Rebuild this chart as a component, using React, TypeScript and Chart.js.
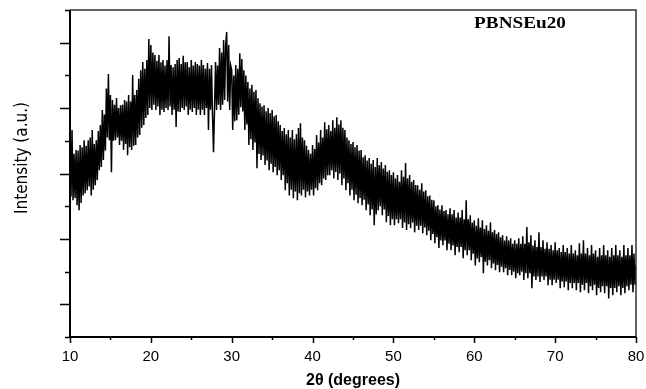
import React, { useEffect, useRef } from "react";
import { Chart, registerables } from "chart.js";

Chart.register(...registerables);

// 2θ sampling of the pattern (degrees)
const X_START = 10;
const X_STEP = 0.125;

// Intensity (a.u.), grouped by 10° ranges (8 readings per degree)
const I_10_20 = [
  6.00, 4.30, 6.33, 4.18, 5.60, 4.25, 5.72, 4.03,
  5.70, 3.88, 5.87, 4.10, 5.80, 4.33, 6.02, 4.40,
  5.85, 4.49, 6.02, 4.60, 6.10, 4.33, 6.33, 4.50,
  5.90, 4.64, 6.02, 4.80, 6.30, 5.10, 6.48, 5.20,
  6.94, 5.41, 6.80, 5.70, 7.60, 6.10, 8.04, 6.02,
  7.40, 5.04, 7.25, 6.00, 7.10, 6.02, 7.31, 6.10,
  7.00, 5.87, 7.09, 6.00, 7.10, 5.72, 7.25, 5.90,
  7.20, 5.56, 7.40, 5.80, 7.20, 5.72, 8.01, 5.85,
  7.40, 5.87, 7.55, 6.10, 7.90, 6.18, 8.16, 6.40,
  8.41, 6.48, 8.20, 6.70, 8.47, 6.79, 9.11, 7.00,
];
const I_20_30 = [
  8.93, 6.94, 8.70, 7.10, 8.62, 6.94, 8.45, 7.05,
  8.62, 6.79, 8.40, 6.95, 8.47, 6.88, 8.30, 7.00,
  8.47, 6.94, 9.20, 7.05, 8.32, 6.79, 8.25, 6.95,
  8.35, 6.42, 8.47, 6.90, 8.53, 6.88, 8.35, 7.00,
  8.60, 6.94, 8.40, 7.05, 8.41, 6.79, 8.25, 6.95,
  8.47, 6.88, 8.30, 7.00, 8.41, 6.79, 8.35, 6.95,
  8.30, 6.79, 8.47, 6.95, 8.32, 6.79, 8.20, 7.00,
  8.38, 6.33, 8.20, 6.95, 8.32, 6.79, 5.65, 7.00,
  8.41, 6.94, 8.30, 7.10, 8.84, 6.94, 8.70, 7.10,
  9.08, 7.25, 8.90, 9.33, 7.20, 8.93, 6.94, 8.30,
];
const I_30_40 = [
  8.16, 6.33, 8.00, 6.60, 8.32, 6.63, 8.20, 6.80,
  8.68, 7.03, 8.50, 6.90, 8.16, 6.33, 8.00, 6.50,
  7.80, 5.87, 7.60, 6.05, 7.71, 5.72, 7.50, 5.95,
  7.55, 5.16, 7.30, 5.60, 7.15, 5.41, 7.05, 5.55,
  7.09, 5.26, 6.90, 5.40, 7.00, 5.10, 6.85, 5.30,
  6.94, 5.04, 6.75, 5.20, 6.79, 4.95, 6.60, 5.10,
  6.48, 4.80, 6.30, 4.95, 6.39, 4.49, 6.20, 4.70,
  6.33, 4.33, 6.10, 4.50, 6.33, 4.24, 6.05, 4.45,
  6.20, 4.18, 6.39, 4.40, 6.54, 4.33, 6.10, 4.50,
  6.02, 4.27, 5.85, 4.45, 5.72, 4.33, 5.60, 4.50,
];
const I_40_50 = [
  5.87, 4.33, 5.75, 4.55, 6.18, 4.49, 5.95, 4.70,
  6.33, 4.64, 6.10, 4.85, 6.57, 4.80, 6.35, 4.95,
  6.48, 4.95, 6.30, 5.10, 6.63, 4.85, 6.40, 5.05,
  6.72, 4.80, 6.50, 5.00, 6.63, 4.64, 6.40, 4.85,
  6.33, 4.49, 6.10, 4.70, 6.02, 4.33, 5.90, 4.50,
  5.96, 4.18, 5.80, 4.35, 5.87, 4.09, 5.70, 4.25,
  5.72, 4.03, 5.50, 4.20, 5.56, 3.88, 5.40, 4.05,
  5.47, 3.72, 5.30, 3.90, 5.41, 3.42, 5.20, 3.75,
  5.47, 3.88, 5.25, 4.00, 5.35, 3.72, 5.15, 3.90,
  5.26, 3.51, 5.05, 3.70, 5.10, 3.42, 4.95, 3.60,
];
const I_50_60 = [
  5.04, 3.42, 4.85, 3.60, 4.95, 3.48, 4.75, 3.60,
  5.10, 3.33, 4.90, 3.50, 5.32, 3.27, 4.85, 3.45,
  4.95, 3.33, 4.75, 3.50, 4.80, 3.20, 4.65, 3.40,
  4.64, 3.27, 4.50, 3.40, 4.70, 3.17, 4.45, 3.35,
  4.49, 3.11, 4.30, 3.25, 4.33, 2.96, 4.20, 3.15,
  4.18, 2.87, 4.00, 3.05, 4.03, 2.72, 3.90, 2.95,
  4.03, 2.81, 3.85, 2.95, 3.88, 2.65, 3.75, 2.85,
  3.94, 2.65, 3.75, 2.80, 3.88, 2.50, 3.65, 2.75,
  3.81, 2.59, 3.65, 2.75, 3.88, 2.41, 3.60, 2.65,
  4.18, 2.50, 3.60, 2.65, 3.72, 2.35, 3.50, 2.55,
];
const I_60_70 = [
  3.57, 2.19, 3.40, 2.40, 3.63, 2.29, 3.35, 2.45,
  3.57, 1.95, 3.30, 2.30, 3.42, 2.19, 3.25, 2.35,
  3.51, 2.10, 3.20, 2.25, 3.27, 2.04, 3.15, 2.20,
  3.20, 1.98, 3.05, 2.15, 3.11, 1.98, 2.95, 2.10,
  3.08, 1.89, 2.95, 2.05, 3.02, 1.89, 2.85, 2.00,
  2.96, 1.80, 2.85, 1.95, 3.02, 1.89, 2.85, 2.00,
  3.08, 1.74, 2.85, 1.95, 3.36, 1.80, 2.90, 1.95,
  3.11, 1.49, 2.80, 1.85, 2.96, 1.74, 2.75, 1.85,
  3.20, 1.68, 2.75, 1.85, 2.96, 1.74, 2.70, 1.85,
  2.90, 1.58, 2.70, 1.75, 2.81, 1.58, 2.65, 1.75,
];
const I_70_80 = [
  2.90, 1.65, 2.65, 1.75, 2.72, 1.49, 2.60, 1.70,
  2.81, 1.52, 2.60, 1.70, 2.72, 1.43, 2.55, 1.65,
  2.81, 1.49, 2.55, 1.65, 2.65, 1.43, 2.50, 1.65,
  2.87, 1.37, 2.55, 1.60, 2.96, 1.43, 2.55, 1.65,
  2.72, 1.34, 2.50, 1.55, 2.81, 1.43, 2.55, 1.60,
  2.65, 1.28, 2.45, 1.50, 2.72, 1.37, 2.50, 1.55,
  2.81, 1.34, 2.50, 1.55, 2.65, 1.18, 2.45, 1.50,
  2.72, 1.28, 2.50, 1.50, 2.81, 1.37, 2.50, 1.55,
  2.65, 1.28, 2.45, 1.50, 2.81, 1.34, 2.50, 1.55,
  2.72, 1.43, 2.50, 1.60, 2.81, 1.37, 2.55, 1.60,
  2.20,
];

const X_MIN = 10;
const X_MAX = 80;
const X_MAJOR = 10;
const X_MINOR = 5;
const Y_MIN = 0;
const Y_MAX = 10;
const SAMPLE_LABEL = "PBNSEu20";
const X_TITLE = "2\u03B8 (degrees)";
const Y_TITLE = "Intensity (a.u.)";

const INTENSITY = [
  ...I_10_20, ...I_20_30, ...I_30_40, ...I_40_50, ...I_50_60, ...I_60_70, ...I_70_80,
];
const POINTS = INTENSITY.map((v, i) => ({ x: X_START + i * X_STEP, y: v }));

const framePlugin = {
  id: "frameTicks",
  afterDraw(chart: any) {
    const { ctx, chartArea: a, scales } = chart;
    const xs = scales.x;
    const ys = scales.y;
    ctx.save();
    // top and right frame
    ctx.strokeStyle = "#333";
    ctx.lineWidth = 1.5;
    ctx.beginPath();
    ctx.moveTo(a.left, a.top);
    ctx.lineTo(a.right, a.top);
    ctx.lineTo(a.right, a.bottom);
    ctx.stroke();
    // axes
    ctx.strokeStyle = "#000";
    ctx.lineWidth = 2;
    ctx.beginPath();
    ctx.moveTo(a.left, a.top);
    ctx.lineTo(a.left, a.bottom);
    ctx.lineTo(a.right, a.bottom);
    ctx.stroke();
    // tick marks
    ctx.lineWidth = 1.5;
    ctx.beginPath();
    for (let v = Y_MIN; v <= Y_MAX; v += 1) {
      const py = Math.round(ys.getPixelForValue(v)) + 0.5;
      const len = v % 2 === 1 ? 10 : 5;
      ctx.moveTo(a.left - len, py);
      ctx.lineTo(a.left, py);
    }
    for (let v = X_MIN; v <= X_MAX; v += X_MINOR) {
      const px = Math.round(xs.getPixelForValue(v)) + 0.5;
      const len = v % X_MAJOR === 0 ? 6 : 3;
      ctx.moveTo(px, a.bottom);
      ctx.lineTo(px, a.bottom + len);
    }
    ctx.stroke();
    // y title
    ctx.fillStyle = "#000";
    ctx.font = "17px 'Liberation Sans Narrow', 'DejaVu Sans Condensed', 'Arial Narrow', sans-serif";
    ctx.textAlign = "center";
    ctx.textBaseline = "middle";
    ctx.save();
    ctx.translate(23, 158);
    ctx.rotate(-Math.PI / 2);
    ctx.fillText(Y_TITLE, 0, 0);
    ctx.restore();
    // sample label
    ctx.font = "bold 16px 'Liberation Serif', 'Times New Roman', serif";
    ctx.save();
    ctx.translate(520, 24);
    ctx.scale(1.2, 1);
    ctx.fillText(SAMPLE_LABEL, 0, 0);
    ctx.restore();
    ctx.restore();
  },
};

export default function App() {
  const ref = useRef<HTMLCanvasElement | null>(null);
  useEffect(() => {
    if (!ref.current) return;
    const chart = new Chart(ref.current, {
      type: "line",
      data: {
        datasets: [
          {
            data: POINTS,
            borderColor: "#000",
            borderWidth: 1.5,
            pointRadius: 0,
            tension: 0,
            fill: false,
          },
        ],
      },
      options: {
        animation: false,
        responsive: false,
        events: [],
        layout: { padding: { top: 10, right: 10, left: 0, bottom: 0 } },
        plugins: { legend: { display: false }, tooltip: { enabled: false } },
        scales: {
          x: {
            type: "linear",
            min: X_MIN,
            max: X_MAX,
            afterFit: (s: any) => {
              s.height = 52;
              s.paddingLeft = 0;
              s.paddingRight = 0;
            },
            border: { display: false },
            grid: { display: false, drawTicks: false },
            ticks: {
              stepSize: X_MAJOR,
              padding: 11,
              color: "#000",
              maxRotation: 0,
              autoSkip: false,
              font: { size: 15, family: "'Liberation Sans', Arial, sans-serif" },
            },
            title: {
              display: true,
              text: X_TITLE,
              color: "#000",
              padding: { top: 0, bottom: 0 },
              font: { size: 16, weight: "bold", lineHeight: 1, family: "'Liberation Sans', Arial, sans-serif" },
            },
          },
          y: {
            type: "linear",
            min: Y_MIN,
            max: Y_MAX,
            afterFit: (s: any) => {
              s.width = 70;
              s.paddingTop = 0;
              s.paddingBottom = 0;
            },
            border: { display: false },
            grid: { display: false, drawTicks: false },
            ticks: { display: false, stepSize: 1 },
          },
        },
      },
      plugins: [framePlugin],
    });
    return () => chart.destroy();
  }, []);
  return (
    <div style={{ position: "absolute", left: 0, top: 0, width: 646, height: 389, background: "#fff" }}>
      <canvas ref={ref} width={646} height={389} style={{ width: 646, height: 389 }} />
    </div>
  );
}
